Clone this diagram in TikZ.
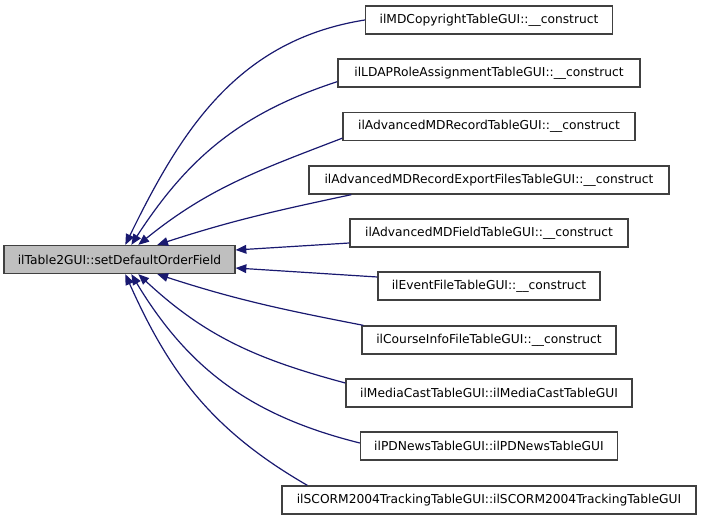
\documentclass[tikz,border=0pt]{standalone}
\usepackage{fontspec}
\setmainfont{DejaVu Sans}
\usetikzlibrary{arrows.meta}
\definecolor{edgeblue}{HTML}{191970}

\begin{document}
\begin{tikzpicture}[x=0.75pt,y=0.75pt,
    fnbox/.style={draw=black!75,line width=1pt,inner sep=0pt,minimum height=21pt,
        font=\fontsize{9.2pt}{11pt}\selectfont},
    calledge/.style={draw=edgeblue,line width=0.9pt,-{Triangle[length=8pt,width=6.5pt]}}]
\useasboundingbox (0,0) rectangle (701,-520);

% Function
\node[fnbox,fill=black!25,minimum width=173.25pt] (main) at (119.5,-259.5) {ilTable2GUI::setDefaultOrderField};

% Callers
\foreach \name/\y/\w/\txt in {
    copy/20/247/ilMDCopyrightTableGUI::\_\_construct,
    ldap/73/302/ilLDAPRoleAssignmentTableGUI::\_\_construct,
    adv/126.5/292/ilAdvancedMDRecordTableGUI::\_\_construct,
    export/180/360/ilAdvancedMDRecordExportFilesTableGUI::\_\_construct,
    field/233/278/ilAdvancedMDFieldTableGUI::\_\_construct,
    event/286/222/ilEventFileTableGUI::\_\_construct,
    course/340/254/ilCourseInfoFileTableGUI::\_\_construct,
    media/393/286/ilMediaCastTableGUI::ilMediaCastTableGUI,
    pdnews/446/257/ilPDNewsTableGUI::ilPDNewsTableGUI,
    scorm/500/414/ilSCORM2004TrackingTableGUI::ilSCORM2004TrackingTableGUI} {
    \node[fnbox,minimum width=0.75*\w pt] (\name) at (489,-\y) {\txt};
}

% Arrows
\draw[calledge] (copy.west) to[out=189,in=64] ([shift={(122,0)}]main.north west);
\draw[calledge] ([shift={(0,6)}]ldap.south west) to[out=198,in=57] ([shift={(128,0)}]main.north west);
\draw[calledge] ([shift={(0,3)}]adv.south west) to[out=201,in=39] ([shift={(135,0)}]main.north west);
\draw[calledge] ([shift={(43,0)}]export.south west) to[out=192,in=18] ([shift={(154,0)}]main.north west);
\draw[calledge] ([shift={(0,-10)}]field.west) -- ([shift={(0,9.5)}]main.east);
\draw[calledge] ([shift={(0,9)}]event.west) -- ([shift={(0,-8.5)}]main.east);
\draw[calledge] ([shift={(2,0)}]course.north west) to[out=169,in=-18] ([shift={(154,0)}]main.south west);
\draw[calledge] ([shift={(0,10)}]media.west) to[out=165,in=-43] ([shift={(135,0)}]main.south west);
\draw[calledge] ([shift={(0,3)}]pdnews.west) to[out=166,in=-59] ([shift={(128,0)}]main.south west);
\draw[calledge] ([shift={(26,0)}]scorm.north west) to[out=150,in=-66] ([shift={(122,0)}]main.south west);
\end{tikzpicture}
\end{document}
